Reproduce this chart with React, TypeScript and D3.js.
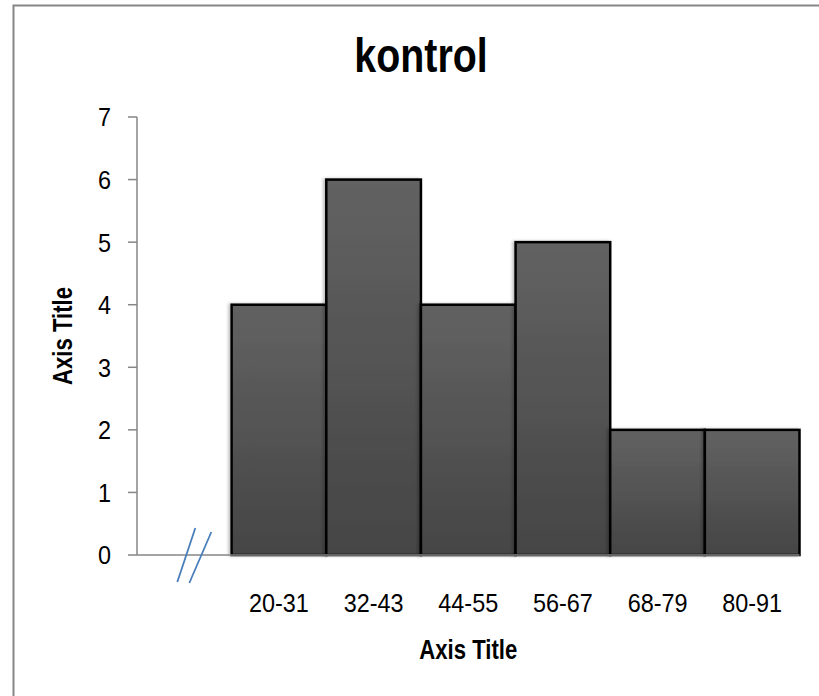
import React from "react";
import * as d3 from "d3";

// Frequency by age group
const categories: string[] = ["", "20-31", "32-43", "44-55", "56-67", "68-79", "80-91"];
const counts: (number | null)[] = [null, 4, 6, 4, 5, 2, 2];
const yTicks: number[] = [0, 1, 2, 3, 4, 5, 6, 7];
const chartTitle = "kontrol";
const xAxisTitle = "Axis Title";
const yAxisTitle = "Axis Title";

const W = 819;
const H = 696;
const plot = { left: 137, right: 799.5, top: 117, bottom: 555 };
const FONT = "'Liberation Sans', Arial, sans-serif";

// Text squeezed horizontally to get a narrow face
function NText(props: {
  x: number;
  y: number;
  size: number;
  squeeze: number;
  bold?: boolean;
  anchor?: "start" | "middle" | "end";
  rotate?: number;
  dy?: string;
  children: React.ReactNode;
}) {
  const { x, y, size, squeeze, bold, anchor = "middle", rotate = 0, dy, children } = props;
  return (
    <text
      transform={`translate(${x},${y}) rotate(${rotate}) scale(${squeeze},1)`}
      textAnchor={anchor}
      dy={dy}
      fontFamily={FONT}
      fontWeight={bold ? "bold" : "normal"}
      fontSize={size}
      fill="#000"
    >
      {children}
    </text>
  );
}

export default function App() {
  const x = d3.scaleBand<string>().domain(categories).range([plot.left, plot.right]).padding(0);
  const y = d3.scaleLinear().domain([0, 7]).range([plot.bottom, plot.top]);
  const bw = x.bandwidth();
  const breakX = (x("") as number) + bw / 2;

  return (
    <div style={{ position: "absolute", left: 0, top: 0, width: W, height: H, overflow: "hidden" }}>
      <svg width={W} height={H} style={{ display: "block", background: "#fff" }}>
        <defs>
          <linearGradient id="barFill" x1="0" y1="0" x2="0" y2="1">
            <stop offset="0%" stopColor="#626262" />
            <stop offset="100%" stopColor="#454545" />
          </linearGradient>
          <filter id="barShadow" x="-10%" y="-10%" width="120%" height="120%">
            <feDropShadow dx="-2" dy="0" stdDeviation="1.5" floodColor="#000" floodOpacity="0.25" />
          </filter>
        </defs>

        {/* chart area border (left and top edges) */}
        <path d={`M13.5,${H + 5} V5.5 H${W + 5}`} fill="none" stroke="#868686" strokeWidth={2} />

        <NText x={421} y={72} size={48} squeeze={0.82} bold>
          {chartTitle}
        </NText>

        {/* bars */}
        {categories.map((c, i) =>
          counts[i] == null ? null : (
            <rect
              key={c}
              x={x(c) as number}
              y={y(counts[i] as number)}
              width={bw}
              height={y(0) - y(counts[i] as number)}
              fill="url(#barFill)"
              stroke="#000"
              strokeWidth={2.5}
              filter="url(#barShadow)"
            />
          )
        )}

        {/* y axis */}
        <line x1={plot.left} x2={plot.left} y1={plot.top} y2={plot.bottom} stroke="#868686" strokeWidth={1.5} />
        {yTicks.map((t) => (
          <g key={t}>
            <line x1={plot.left - 9} x2={plot.left} y1={y(t)} y2={y(t)} stroke="#868686" strokeWidth={1.5} />
            <NText x={111} y={y(t)} dy="0.36em" size={26} squeeze={0.9} anchor="end">
              {t}
            </NText>
          </g>
        ))}

        {/* x axis */}
        <line x1={plot.left} x2={plot.right} y1={plot.bottom} y2={plot.bottom} stroke="#868686" strokeWidth={1.5} />
        {categories.map((c) => (
          <NText key={"l" + c} x={(x(c) as number) + bw / 2} y={612} size={26} squeeze={0.9}>
            {c}
          </NText>
        ))}

        {/* axis break marks */}
        <line x1={breakX + 11} y1={528} x2={breakX - 7} y2={582} stroke="#4a7ebb" strokeWidth={1.8} />
        <line x1={breakX + 27} y1={532} x2={breakX + 5} y2={583} stroke="#4a7ebb" strokeWidth={1.8} />

        <NText x={(plot.left + plot.right) / 2} y={659} size={27} squeeze={0.82} bold>
          {xAxisTitle}
        </NText>
        <NText x={72} y={(plot.top + plot.bottom) / 2} size={27} squeeze={0.82} bold rotate={-90}>
          {yAxisTitle}
        </NText>
      </svg>
    </div>
  );
}
